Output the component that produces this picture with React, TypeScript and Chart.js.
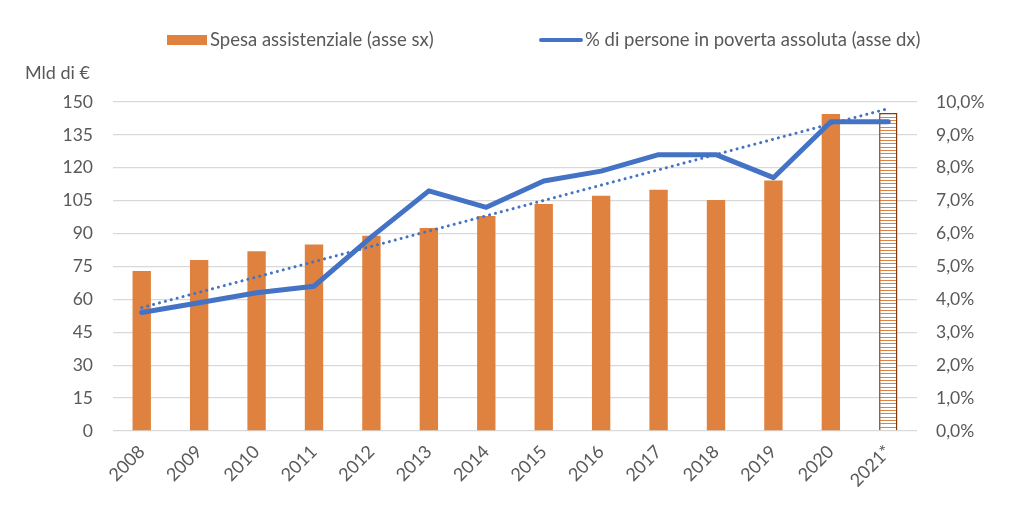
import React, { useEffect, useRef } from 'react';
import { Chart, registerables, ChartConfiguration, Plugin } from 'chart.js';

Chart.register(...registerables);

const years = ['2008', '2009', '2010', '2011', '2012', '2013', '2014', '2015', '2016', '2017', '2018', '2019', '2020', '2021*'];
// Mld di euro (left axis)
const spesa = [73, 78, 82, 85, 89, 92.5, 98, 103.5, 107.3, 110, 105.3, 114.2, 144.5, 145];
// % of people in absolute poverty (right axis)
const poverta = [3.6, 3.9, 4.2, 4.4, 5.9, 7.3, 6.8, 7.6, 7.9, 8.4, 8.4, 7.7, 9.4, 9.4];
// linear trend of poverta, read at its two ends
const trend = [3.75, null, null, null, null, null, null, null, null, null, null, null, null, 9.8];

const leftTicks = [0, 15, 30, 45, 60, 75, 90, 105, 120, 135, 150];
const rightTicks = [0, 1, 2, 3, 4, 5, 6, 7, 8, 9, 10];

const ORANGE = '#E0823F';
const BLUE = '#4472C4';
const TEXT = '#595959';
const FONT = 'Lato, "Open Sans", sans-serif';

function stripePattern(): CanvasPattern | string {
  const c = document.createElement('canvas');
  c.width = 8;
  c.height = 10;
  const g = c.getContext('2d');
  if (!g) return ORANGE;
  g.fillStyle = '#ffffff';
  g.fillRect(0, 0, 8, 10);
  g.fillStyle = ORANGE;
  g.fillRect(0, 0, 8, 1);
  g.fillRect(0, 3, 8, 1);
  g.fillRect(0, 7, 8, 1);
  const p = g.createPattern(c, 'repeat');
  return p || ORANGE;
}

// legend and unit label drawn by hand to match the Excel layout
const extrasPlugin: Plugin = {
  id: 'extras',
  afterDraw(chart) {
    const ctx = chart.ctx;
    ctx.save();
    ctx.font = `18.5px ${FONT}`;
    ctx.fillStyle = TEXT;
    ctx.textBaseline = 'middle';
    ctx.textAlign = 'left';
    // bar legend
    ctx.fillStyle = ORANGE;
    ctx.fillRect(167, 35, 40, 10);
    ctx.fillStyle = TEXT;
    ctx.fillText('Spesa assistenziale (asse sx)', 210, 40);
    // line legend
    ctx.strokeStyle = BLUE;
    ctx.lineWidth = 4;
    ctx.lineCap = 'round';
    ctx.beginPath();
    ctx.moveTo(541, 40);
    ctx.lineTo(581, 40);
    ctx.stroke();
    ctx.fillText('% di persone in poverta assoluta (asse dx)', 585, 40);
    // unit
    ctx.font = `18px ${FONT}`;
    ctx.fillText('Mld di €', 25, 73);
    ctx.restore();
  },
};

const App: React.FC = () => {
  const canvasRef = useRef<HTMLCanvasElement | null>(null);
  const chartRef = useRef<Chart | null>(null);

  useEffect(() => {
    if (!canvasRef.current) return;
    const ctx = canvasRef.current.getContext('2d');
    if (!ctx) return;
    if (chartRef.current) chartRef.current.destroy();

    const pattern = stripePattern();
    const lastIdx = years.length - 1;

    const config: ChartConfiguration = {
      type: 'bar',
      data: {
        labels: years,
        datasets: [
          {
            type: 'line',
            label: 'Tendenza',
            data: trend,
            yAxisID: 'y1',
            borderColor: BLUE,
            borderWidth: 3,
            borderDash: [0.1, 6],
            borderCapStyle: 'round',
            pointRadius: 0,
            spanGaps: true,
            order: 0,
          },
          {
            type: 'line',
            label: '% di persone in poverta assoluta (asse dx)',
            data: poverta,
            yAxisID: 'y1',
            borderColor: BLUE,
            borderWidth: 5,
            borderCapStyle: 'round',
            borderJoinStyle: 'round',
            pointRadius: 0,
            tension: 0,
            order: 1,
          },
          {
            type: 'bar',
            label: 'Spesa assistenziale (asse sx)',
            data: spesa,
            yAxisID: 'y',
            backgroundColor: spesa.map((_, i) => (i === lastIdx ? pattern : ORANGE)) as any,
            borderColor: spesa.map((_, i) => (i === lastIdx ? '#843C0C' : ORANGE)),
            borderWidth: spesa.map((_, i) => (i === lastIdx ? 1.5 : 0)),
            barPercentage: 0.32,
            categoryPercentage: 1,
            order: 2,
          },
        ],
      },
      options: {
        responsive: false,
        animation: false,
        devicePixelRatio: 1,
        layout: { padding: { top: 102, left: 0, right: 0, bottom: 0 } },
        plugins: {
          legend: { display: false },
          tooltip: { enabled: false },
        },
        scales: {
          x: {
            grid: { display: false },
            border: { display: false },
            ticks: {
              color: TEXT,
              font: { family: FONT, size: 18 },
              minRotation: 45,
              maxRotation: 45,
              padding: 2,
            },
            afterFit(scale) {
              scale.height = 86;
            },
          },
          y: {
            position: 'left',
            min: 0,
            max: 150,
            afterBuildTicks(scale) {
              scale.ticks = leftTicks.map((v) => ({ value: v }));
            },
            grid: { color: '#D9D9D9', lineWidth: 1.3, drawTicks: false },
            border: { display: false },
            ticks: {
              color: TEXT,
              font: { family: FONT, size: 17.5 },
              padding: 20,
            },
            afterFit(scale) {
              scale.width = 113;
            },
          },
          y1: {
            position: 'right',
            min: 0,
            max: 10,
            afterBuildTicks(scale) {
              scale.ticks = rightTicks.map((v) => ({ value: v }));
            },
            grid: { display: false, drawTicks: false },
            border: { display: false },
            ticks: {
              color: TEXT,
              font: { family: FONT, size: 17.5 },
              padding: 19,
              callback: (v) => Number(v).toFixed(1).replace('.', ',') + '%',
            },
            afterFit(scale) {
              scale.width = 107;
            },
          },
        },
      },
      plugins: [extrasPlugin],
    };

    chartRef.current = new Chart(ctx, config);
    return () => {
      if (chartRef.current) {
        chartRef.current.destroy();
        chartRef.current = null;
      }
    };
  }, []);

  return (
    <div style={{ position: 'fixed', left: 0, top: 0, width: 1024, height: 517, background: '#fff' }}>
      <canvas ref={canvasRef} width={1024} height={517} />
    </div>
  );
};

export default App;
